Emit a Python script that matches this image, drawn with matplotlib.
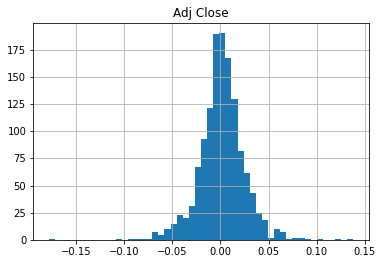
import numpy as np
import matplotlib
matplotlib.use("Agg")
import matplotlib.pyplot as plt

# histogram of daily returns, 50 equal bins
x_min = -0.1786
x_max = 0.1381
counts = [1, 0, 0, 0, 0, 0, 0, 0, 0, 0,
          0, 1, 0, 1, 1, 1, 1, 7, 5, 10,
          15, 23, 20, 31, 67, 93, 121, 189, 190, 167,
          130, 82, 62, 43, 25, 18, 2, 10, 7, 1,
          2, 2, 1, 0, 1, 0, 0, 1, 0, 1]
title = "Adj Close"

edges = np.linspace(x_min, x_max, len(counts) + 1)

fig = plt.figure(figsize=(381 / 72, 264 / 72), dpi=72)
ax = fig.add_axes([33.3 / 381, 1 - 240 / 264, (368.7 - 33.3) / 381, (240 - 23) / 264])
ax.hist(edges[:-1], bins=edges, weights=counts, color="#1f77b4")
ax.grid(True)
ax.set_title(title)
ax.set_yticks(range(0, 176, 25))
ax.set_xticks([-0.15, -0.10, -0.05, 0.00, 0.05, 0.10, 0.15])
ax.set_xticklabels(["\u22120.15", "\u22120.10", "\u22120.05", "0.00", "0.05", "0.10", "0.15"])

fig.savefig("out.png", dpi=72)
